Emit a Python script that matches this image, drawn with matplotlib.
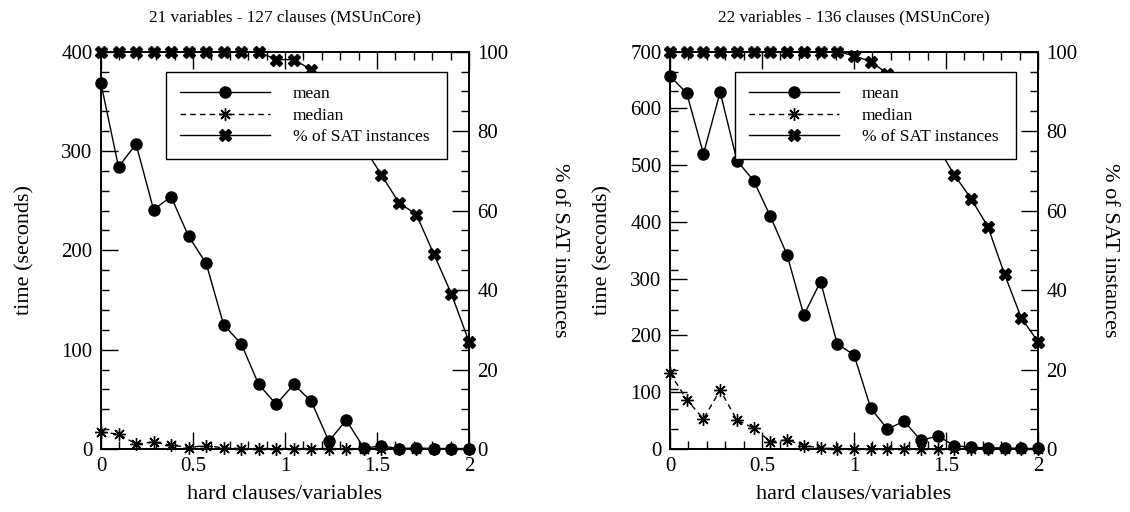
import numpy as np
import matplotlib
matplotlib.use('Agg')
import matplotlib.pyplot as plt
from matplotlib.ticker import MultipleLocator

plt.rcParams['font.family'] = ['Liberation Serif', 'DejaVu Serif']

# ---- data: 21 variables - 127 clauses
titles = ['21 variables - 127 clauses (MSUnCore)', '22 variables - 136 clauses (MSUnCore)']
nvars = [21, 22]
ymax = [400, 700]

mean21 = [368, 284, 307, 241, 254, 214, 187, 125, 106, 65, 45, 65, 48, 8, 29, 1, 3, 0.5, 1, 0.5, 0.5, 0.5]
median21 = [17, 15, 5, 7, 4, 1.5, 3.5, 1, 0.5, 0.5, 0.5, 0.5, 0.5, 0.5, 0.5, 0.3, 0.3, 0.3, 0.3, 0.3, 0.3, 0.3]
sat21 = [100, 100, 100, 100, 100, 100, 100, 100, 100, 100, 98, 98, 95.5, 89, 82, 76, 69, 62, 59, 49, 39, 27]

# ---- data: 22 variables - 136 clauses
mean22 = [657, 627, 520, 629, 508, 473, 410, 342, 236, 295, 185, 166, 72, 35, 49, 15, 23, 6, 3, 2, 2, 1, 1]
median22 = [134, 87, 53, 104, 51, 37, 13, 16, 6, 2, 0.5, 0.5, 0.5, 0.5, 0.5, 0.5, 0.5, 0.5, 0.5, 0.5, 0.5, 0.5, 0.5]
sat22 = [100, 100, 100, 100, 100, 100, 100, 100, 100, 100, 100, 99, 97.5, 94.5, 90, 83, 76, 69, 63, 56, 44, 33, 27]

means = [mean21, mean22]
medians = [median21, median22]
sats = [sat21, sat22]

fig = plt.figure(figsize=(11.3, 5.12), dpi=100)
lefts = [101 / 1130, 670 / 1130]
width = 368 / 1130
bottom = 1 - 449 / 512
height = (449 - 51.7) / 512
ylab_x = [-0.18, -0.155]     # left label position (axes fraction)
y2lab_x = [1.245, 1.195]     # right label position

asterisk = (8, 2, 0)
lw = 1.0

for i in range(2):
    ax = fig.add_axes([lefts[i], bottom, width, height])
    ax2 = ax.twinx()
    x = np.arange(nvars[i] + 1) * 2.0 / nvars[i]

    l1, = ax.plot(x, means[i], '-', color='black', lw=lw, marker='o', ms=8, clip_on=False)
    l2, = ax.plot(x, medians[i], color='black', lw=lw, ls=(0, (4, 3)), marker=asterisk, ms=9, mew=1.0, clip_on=False)
    l3, = ax2.plot(x, sats[i], '-', color='black', lw=lw, marker='X', ms=9, clip_on=False)

    ax.set_xlim(0, 2)
    ax.set_ylim(0, ymax[i])
    ax2.set_ylim(0, 100)
    ax.xaxis.set_major_locator(MultipleLocator(0.5))
    ax.xaxis.set_minor_locator(MultipleLocator(0.1))
    ax.yaxis.set_major_locator(MultipleLocator(100))
    ax.yaxis.set_minor_locator(MultipleLocator(ymax[i] / 20))
    ax2.yaxis.set_major_locator(MultipleLocator(20))
    ax2.yaxis.set_minor_locator(MultipleLocator(5))
    ax.xaxis.set_major_formatter(plt.FuncFormatter(lambda v, p: '%g' % v))

    ax.tick_params(which='major', direction='in', length=12, width=1, labelsize=15, top=True, pad=6)
    ax.tick_params(which='minor', direction='in', length=6, width=1, top=True)
    ax.tick_params(axis='y', which='both', right=False)
    ax2.tick_params(which='major', direction='in', length=12, width=1, labelsize=15, pad=6)
    ax2.tick_params(which='minor', direction='in', length=6, width=1)
    for a in (ax, ax2):
        for s in a.spines.values():
            s.set_linewidth(1.2)

    ax.set_title(titles[i], fontsize=12.3, pad=22)
    ax.set_xlabel('hard clauses/variables', fontsize=16, labelpad=6)
    ax.set_ylabel('time (seconds)', fontsize=16)
    ax.yaxis.set_label_coords(ylab_x[i], 0.5)
    ax2.set_ylabel('% of SAT instances', fontsize=16, rotation=-90, va='center')
    ax2.yaxis.set_label_coords(y2lab_x[i], 0.5)

    leg = ax2.legend([l1, l2, l3], ['mean', 'median', '% of SAT instances'],
                     loc='upper left', bbox_to_anchor=(0.177, 0.723, 0.762, 0.225), mode='expand',
                     frameon=True, fancybox=False, edgecolor='black', framealpha=1, fontsize=12.5,
                     handlelength=5.2, borderpad=0.8, labelspacing=0.3, handletextpad=1.3,
                     borderaxespad=0)
    leg.get_frame().set_linewidth(1.0)
    leg.set_zorder(5)

fig.savefig('out.png', dpi=100)
